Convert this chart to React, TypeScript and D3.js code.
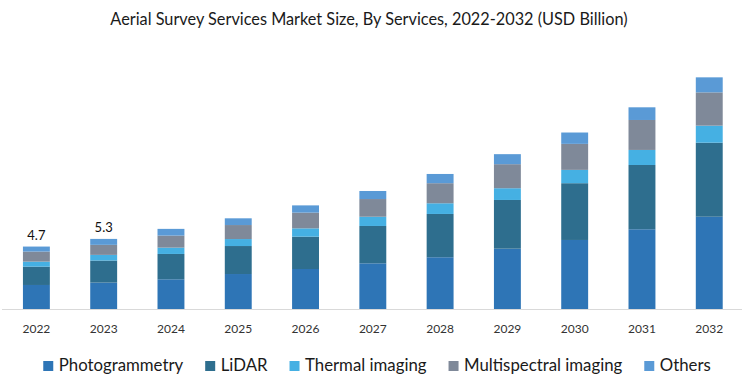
import { useEffect, useRef } from 'react';
import { scaleBand, scaleLinear, select, stack } from 'd3';

const years = ['2022', '2023', '2024', '2025', '2026', '2027', '2028', '2029', '2030', '2031', '2032'];

const photogrammetry = [1.82, 2.0, 2.25, 2.65, 3.03, 3.46, 3.92, 4.57, 5.23, 6.04, 6.99];
const lidar = [1.39, 1.67, 1.92, 2.12, 2.45, 2.83, 3.28, 3.69, 4.3, 4.87, 5.61];
const thermalImaging = [0.38, 0.43, 0.48, 0.53, 0.63, 0.7, 0.81, 0.89, 1.01, 1.14, 1.29];
const multispectralImaging = [0.76, 0.76, 0.91, 1.06, 1.19, 1.34, 1.52, 1.82, 1.97, 2.27, 2.52];
const others = [0.38, 0.45, 0.51, 0.51, 0.55, 0.61, 0.7, 0.76, 0.86, 0.96, 1.14];

const seriesNames = ['Photogrammetry', 'LiDAR', 'Thermal imaging', 'Multispectral imaging', 'Others'];
const seriesValues = [photogrammetry, lidar, thermalImaging, multispectralImaging, others];
const seriesColors = ['#2e75b6', '#2e6e8e', '#45b0e3', '#7f8999', '#5a9ad6'];

// only the first two years carry a total label
const totalLabels = ['4.7', '5.3'];

const title = 'Aerial Survey Services Market Size, By Services, 2022-2032 (USD Billion)';

export default function App() {
  const svgRef = useRef<SVGSVGElement>(null);

  useEffect(() => {
    if (!svgRef.current) return;
    const svg = select(svgRef.current);
    svg.selectAll('*').remove();

    const width = 742;
    const baseline = 309;
    const font = 'Lato, "Open Sans", sans-serif';

    const rows = years.map((year, i) => {
      const row: Record<string, any> = { year };
      seriesNames.forEach((name, s) => (row[name] = seriesValues[s][i]));
      return row;
    });
    const stacked = stack<any>().keys(seriesNames)(rows);

    const xScale = scaleBand()
      .domain(years)
      .range([2.75, 742.9])
      .paddingInner(0.6)
      .paddingOuter(0.3);

    const yScale = scaleLinear().domain([0, 20]).range([baseline, baseline - 264]);

    // Title
    svg.append('text')
      .attr('x', 369)
      .attr('y', 25)
      .attr('text-anchor', 'middle')
      .attr('font-family', font)
      .attr('font-size', 16.3)
      .attr('fill', '#1a1a1a')
      .text(title);

    // Bars
    const g = svg.append('g');
    stacked.forEach((layer, s) => {
      g.append('g')
        .attr('fill', seriesColors[s])
        .selectAll('rect')
        .data(layer)
        .enter()
        .append('rect')
        .attr('x', (d: any) => xScale(d.data.year) || 0)
        .attr('y', (d: any) => yScale(d[1]))
        .attr('width', xScale.bandwidth())
        .attr('height', (d: any) => yScale(d[0]) - yScale(d[1]));
    });

    // Baseline
    svg.append('line')
      .attr('x1', 2)
      .attr('x2', width)
      .attr('y1', baseline + 0.5)
      .attr('y2', baseline + 0.5)
      .attr('stroke', '#d9d9d9')
      .attr('stroke-width', 1);

    // Year labels
    svg.append('g')
      .selectAll('text')
      .data(years)
      .enter()
      .append('text')
      .attr('x', (d) => (xScale(d) || 0) + xScale.bandwidth() / 2)
      .attr('y', 333)
      .attr('text-anchor', 'middle')
      .attr('font-family', font)
      .attr('font-size', 12)
      .attr('fill', '#333')
      .text((d) => d);

    // Totals
    const top = stacked[stacked.length - 1];
    svg.append('g')
      .selectAll('text')
      .data(totalLabels)
      .enter()
      .append('text')
      .attr('x', (_, i) => (xScale(years[i]) || 0) + xScale.bandwidth() / 2)
      .attr('y', (_, i) => yScale(top[i][1]) - 6.5)
      .attr('text-anchor', 'middle')
      .attr('font-family', font)
      .attr('font-size', 13)
      .attr('fill', '#111')
      .text((d) => d);

    // Legend, laid out from measured text widths
    const legend = svg.append('g');
    let cursor = 0;
    seriesNames.forEach((name, s) => {
      const item = legend.append('g').attr('transform', `translate(${cursor},0)`);
      item.append('rect')
        .attr('x', 0)
        .attr('y', 361)
        .attr('width', 10)
        .attr('height', 10)
        .attr('fill', seriesColors[s]);
      const label = item.append('text')
        .attr('x', 15.5)
        .attr('y', 371)
        .attr('font-family', font)
        .attr('font-size', 16.8)
        .attr('fill', '#1a1a1a')
        .text(name);
      const w = (label.node() as SVGTextElement).getComputedTextLength();
      cursor += 15.5 + w + 22;
    });
    const legendWidth = cursor - 22;
    legend.attr('transform', `translate(${377 - legendWidth / 2},0)`);
  }, []);

  return (
    <svg
      ref={svgRef}
      width={742}
      height={392}
      style={{ position: 'absolute', left: 0, top: 0, background: '#fff' }}
    />
  );
}
